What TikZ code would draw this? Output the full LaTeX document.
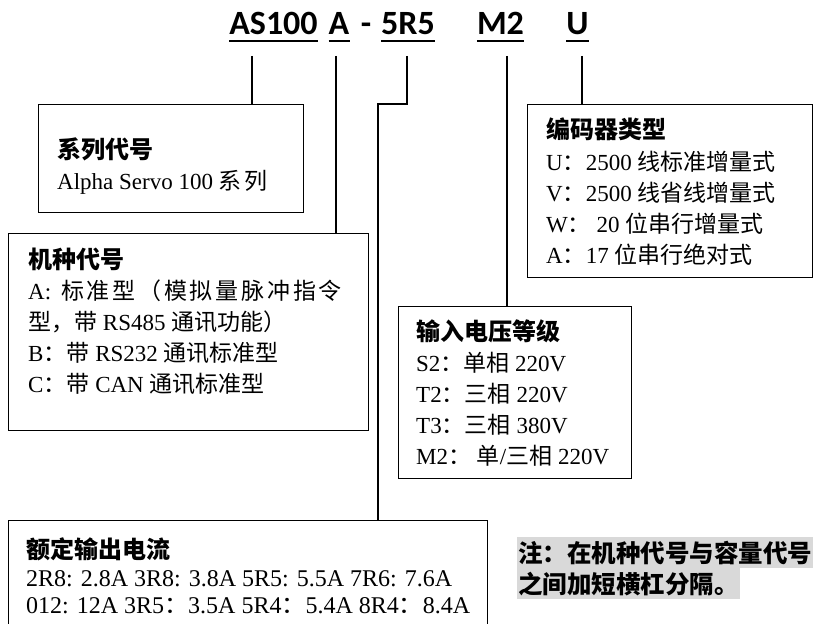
\documentclass[tikz,border=0pt]{standalone}
\usepackage{fontspec}
\setmainfont{Liberation Serif}
\newfontfamily\cjk{Noto Sans CJK SC}
\newfontfamily\codefont{Carlito}
\newcommand{\zh}[1]{{\cjk #1}}
\definecolor{notegray}{HTML}{D9D9D9}
\tikzset{
    infobox/.style={draw, line width=1.2pt, inner sep=0pt, anchor=north west},
    lead/.style={line width=1.2pt},
    codepart/.style={font=\codefont\bfseries\fontsize{34}{40}\selectfont, inner sep=0pt, anchor=base},
    uline/.style={line width=2.8pt},
    headline/.style={font=\cjk\bfseries\fontsize{24}{28}\selectfont, inner sep=0pt, anchor=base west},
    entry/.style={font=\fontsize{23}{28}\selectfont, inner sep=0pt, anchor=base west},
    noteline/.style={font=\cjk\bfseries\fontsize{24.5}{30}\selectfont, fill=notegray, inner xsep=1pt, inner ysep=0pt, minimum height=31pt, anchor=north west}
}
\begin{document}
\begin{tikzpicture}[x=1pt,y=-1pt]
        \useasboundingbox (0,0) rectangle (818,623);
        \clip (0,0) rectangle (818,623);

        \node[codepart] (as) at (273.5,35) {AS100};
        \node[codepart] (kd) at (339,35) {A};
        \node[codepart] (dash) at (366,35) {-};
        \node[codepart] (cap) at (408,35) {5R5};
        \node[codepart] (vt) at (500.5,35) {M2};
        \node[codepart] (ec) at (577.5,35) {U};
        \foreach \p in {as,kd,cap,vt,ec}
            \draw[uline] ([yshift=-6pt]\p.base west) -- ([yshift=-6pt]\p.base east);

        \node[infobox, minimum width=265pt, minimum height=108pt] (ser) at (38,104) {};
        \node[infobox, minimum width=360pt, minimum height=197pt] (kind) at (8,233) {};
        \node[infobox, minimum width=285pt, minimum height=173pt] (enc) at (527,104) {};
        \node[infobox, minimum width=233pt, minimum height=172pt] (volt) at (398,306) {};
        \node[infobox, minimum width=479pt, minimum height=130pt] (cur) at (8,520) {};

        \coordinate (t1) at (252,56);
        \coordinate (t2) at (336,56);
        \coordinate (t3) at (407,56);
        \coordinate (k3) at (378,104);
        \coordinate (t4) at (507,56);
        \coordinate (t5) at (582,56);
        \draw[lead] (t1) -- (t1 |- ser.north);
        \draw[lead] (t2) -- (t2 |- kind.north);
        \draw[lead] (t3) |- (k3) -- (k3 |- cur.north);
        \draw[lead] (t4) -- (t4 |- volt.north);
        \draw[lead] (t5) -- (t5 |- enc.north);

        \node[headline] (ser-h) at (57,158) {系列代号};
        \node[entry] (ser-1) at (57,189) {Alpha Servo 100 \zh{系}\hspace{3pt}\zh{列}};

        \node[headline] (kind-h) at (28,268) {机种代号};
        \node[entry] (kind-1) at (28,299) {A:\hspace{10pt}\zh{\addfontfeature{LetterSpace=12}标准型（模拟量脉冲指令}};
        \node[entry] (kind-2) at (28,330) {\zh{型，带} RS485 \zh{通讯功能）}};
        \node[entry] (kind-3) at (28,361) {B\zh{：带} RS232 \zh{通讯标准型}};
        \node[entry] (kind-4) at (28,392) {C\zh{：带} CAN \zh{通讯标准型}};

        \node[headline] (enc-h) at (546,139) {编码器类型};
        \node[entry] (enc-1) at (546,170) {U\zh{：}2500 \zh{线标准增量式}};
        \node[entry] (enc-2) at (546,201) {V\zh{：}2500 \zh{线省线增量式}};
        \node[entry] (enc-3) at (546,232) {W\zh{：} 20 \zh{位串行增量式}};
        \node[entry] (enc-4) at (546,263) {A\zh{：}17 \zh{位串行绝对式}};

        \node[headline] (volt-h) at (416,340) {输入电压等级};
        \node[entry] (volt-1) at (416,371) {S2\zh{：单相} 220V};
        \node[entry] (volt-2) at (416,402) {T2\zh{：三相} 220V};
        \node[entry] (volt-3) at (416,433) {T3\zh{：三相} 380V};
        \node[entry] (volt-4) at (416,464) {M2\zh{：} \zh{单}/\zh{三相} 220V};

        \node[headline] (cur-h) at (26,558) {额定输出电流};
        \node[entry, font=\fontsize{24}{28}\selectfont] (cur-1) at (26,586) {2R8: 2.8A 3R8: 3.8A 5R5: 5.5A 7R6: 7.6A};
        \node[entry, font=\fontsize{24}{28}\selectfont] (cur-2) at (26,613) {012: 12A 3R5\zh{：}3.5A 5R4\zh{：}5.4A 8R4\zh{：}8.4A};

        \node[noteline] (note-1) at (517,537) {注：在机种代号与容量代号};
        \node[noteline] (note-2) at (517,568) {之间加短横杠分隔。};
\end{tikzpicture}
\end{document}
